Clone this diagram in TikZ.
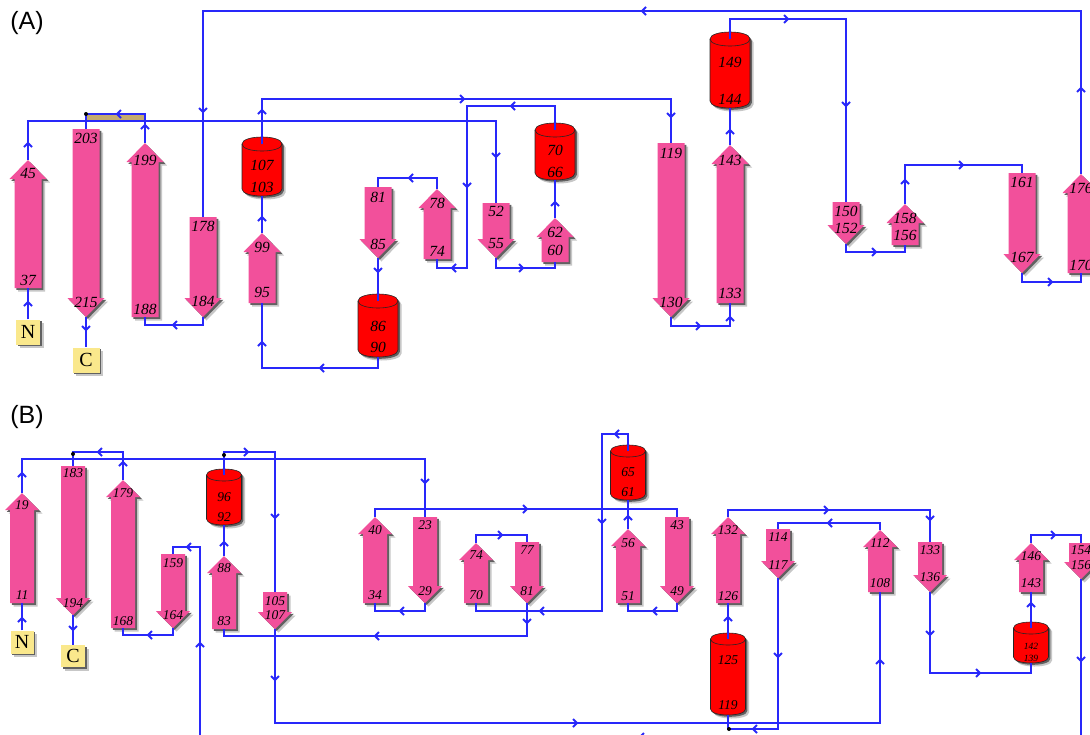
\documentclass[tikz,border=0pt]{standalone}
\usepackage{fontspec}
\setmainfont{Liberation Serif}
\newfontfamily\sansf{Liberation Sans}
\definecolor{cblue}{RGB}{40,40,250}
\definecolor{cpink}{RGB}{242,80,155}
\definecolor{cred}{RGB}{255,0,0}
\definecolor{cyel}{RGB}{250,232,140}
\definecolor{ctan}{RGB}{196,170,112}
\newcommand\labfont{\itshape\fontsize{15.5}{15.5}\selectfont}
\def\bw{27}\def\hw{37}\def\hh{19}\def\cw{40}\def\cry{7}
% up strand: name, x, ybottom, ytip, toplabel, y, bottomlabel, y
\newcommand\upS[8]{%
\fill[shl,shift={(3.5,3.5)}] (#2-\bw/2,#3) -- (#2-\bw/2,#4+\hh) -- (#2-\hw/2,#4+\hh) -- (#2,#4) -- (#2+\hw/2,#4+\hh) -- (#2+\bw/2,#4+\hh) -- (#2+\bw/2,#3) -- cycle;
\fill[shd,shift={(1.8,1.8)}] (#2-\bw/2,#3) -- (#2-\bw/2,#4+\hh) -- (#2-\hw/2,#4+\hh) -- (#2,#4) -- (#2+\hw/2,#4+\hh) -- (#2+\bw/2,#4+\hh) -- (#2+\bw/2,#3) -- cycle;
\fill[cpink] (#2-\bw/2,#3) -- (#2-\bw/2,#4+\hh) -- (#2-\hw/2,#4+\hh) -- (#2,#4) -- (#2+\hw/2,#4+\hh) -- (#2+\bw/2,#4+\hh) -- (#2+\bw/2,#3) -- cycle;
\coordinate (#1-t) at (#2,#4);
\coordinate (#1-b) at (#2,#3);
\node[lab] (#1-l1) at (#2,#6) {#5};
\node[lab] (#1-l2) at (#2,#8) {#7};
}
% down strand: name, x, ytop, ytip, toplabel, y, bottomlabel, y
\newcommand\dnS[8]{%
\fill[shl,shift={(3.5,3.5)}] (#2-\bw/2,#3) -- (#2+\bw/2,#3) -- (#2+\bw/2,#4-\hh) -- (#2+\hw/2,#4-\hh) -- (#2,#4) -- (#2-\hw/2,#4-\hh) -- (#2-\bw/2,#4-\hh) -- cycle;
\fill[shd,shift={(1.8,1.8)}] (#2-\bw/2,#3) -- (#2+\bw/2,#3) -- (#2+\bw/2,#4-\hh) -- (#2+\hw/2,#4-\hh) -- (#2,#4) -- (#2-\hw/2,#4-\hh) -- (#2-\bw/2,#4-\hh) -- cycle;
\fill[cpink] (#2-\bw/2,#3) -- (#2+\bw/2,#3) -- (#2+\bw/2,#4-\hh) -- (#2+\hw/2,#4-\hh) -- (#2,#4) -- (#2-\hw/2,#4-\hh) -- (#2-\bw/2,#4-\hh) -- cycle;
\coordinate (#1-t) at (#2,#3);
\coordinate (#1-b) at (#2,#4);
\node[lab] (#1-l1) at (#2,#6) {#5};
\node[lab] (#1-l2) at (#2,#8) {#7};
}
% helix: name, x, ytop, ybottom, toplabel, y, bottomlabel, y
\newcommand\helix[8]{%
\fill[shl,shift={(3.5,3.5)}] (#2-\cw/2,#3+\cry) -- (#2-\cw/2,#4-\cry) .. controls (#2-\cw/2,#4+\cry/3) and (#2+\cw/2,#4+\cry/3) .. (#2+\cw/2,#4-\cry) -- (#2+\cw/2,#3+\cry) .. controls (#2+\cw/2,#3-\cry/3) and (#2-\cw/2,#3-\cry/3) .. (#2-\cw/2,#3+\cry) -- cycle;
\fill[shd,shift={(1.8,1.8)}] (#2-\cw/2,#3+\cry) -- (#2-\cw/2,#4-\cry) .. controls (#2-\cw/2,#4+\cry/3) and (#2+\cw/2,#4+\cry/3) .. (#2+\cw/2,#4-\cry) -- (#2+\cw/2,#3+\cry) .. controls (#2+\cw/2,#3-\cry/3) and (#2-\cw/2,#3-\cry/3) .. (#2-\cw/2,#3+\cry) -- cycle;
\filldraw[fill=cred,helixline] (#2-\cw/2,#3+\cry) -- (#2-\cw/2,#4-\cry) .. controls (#2-\cw/2,#4+\cry/3) and (#2+\cw/2,#4+\cry/3) .. (#2+\cw/2,#4-\cry) -- (#2+\cw/2,#3+\cry) .. controls (#2+\cw/2,#3-\cry/3) and (#2-\cw/2,#3-\cry/3) .. (#2-\cw/2,#3+\cry) -- cycle;
\draw[helixline] (#2-\cw/2,#3+\cry) .. controls (#2-\cw/2,#3+7*\cry/3) and (#2+\cw/2,#3+7*\cry/3) .. (#2+\cw/2,#3+\cry);
\coordinate (#1-t) at (#2,#3+\cry);
\coordinate (#1-b) at (#2,#4);
\node[lab] (#1-l1) at (#2,#6) {#5};
\node[lab] (#1-l2) at (#2,#8) {#7};
}
% terminus box: name, x, y, w, h, text
\newcommand\tbox[6]{%
\fill[shl] (#2-#4/2+3.5,#3-#5/2+3.5) rectangle ++(#4,#5);
\fill[shd] (#2-#4/2+1.8,#3-#5/2+1.8) rectangle ++(#4,#5);
\node[termbox,minimum width=#4pt,minimum height=#5pt] (#1) at (#2,#3) {#6};
}
% chevrons
\def\cs{4}
\newcommand\chR[2]{\draw[conn] (#1-\cs,#2-\cs) -- (#1,#2) -- (#1-\cs,#2+\cs);}
\newcommand\chL[2]{\draw[conn] (#1+\cs,#2-\cs) -- (#1,#2) -- (#1+\cs,#2+\cs);}
\newcommand\chU[2]{\draw[conn] (#1-\cs,#2+\cs) -- (#1,#2) -- (#1+\cs,#2+\cs);}
\newcommand\chD[2]{\draw[conn] (#1-\cs,#2-\cs) -- (#1,#2) -- (#1+\cs,#2-\cs);}
\begin{document}
\begin{tikzpicture}[x=1pt,y=-1pt,
  conn/.style={draw=cblue,line width=1.9pt},
  shl/.style={fill=black!22},
  shd/.style={fill=black!62},
  helixline/.style={draw=black!85,line width=0.6pt},
  lab/.style={inner sep=0pt,font=\labfont},
  termbox/.style={fill=cyel,inner sep=0pt,font=\fontsize{20}{20}\selectfont},
  panellab/.style={inner sep=0pt,font=\sansf\fontsize{25}{25}\selectfont}]
\path[use as bounding box] (0,0) rectangle (1090,734);
\fill[white] (0,0) rectangle (1090,734);
\clip (0,0) rectangle (1090,734);

% ================= Panel A =================
\node[panellab] (labA) at (27,23) {(A)};
\upS{aS37}{28}{288}{160}{45}{173}{37}{280}
\dnS{aS203}{86}{129}{317}{203}{138}{215}{302}
\upS{aS188}{145}{317}{143}{199}{160}{188}{309}
\dnS{aS178}{203}{217}{317}{178}{226}{184}{301}
\upS{aS95}{262}{303}{233}{99}{247}{95}{292}
\dnS{aS81}{378}{187}{258}{81}{197}{85}{244}
\upS{aS74}{437}{259}{189}{78}{203}{74}{251}
\dnS{aS52}{496}{203}{258}{52}{211}{55}{243}
\upS{aS60}{555}{262}{218}{62}{232}{60}{250}
\dnS{aS119}{671}{143}{317}{119}{153}{130}{302}
\upS{aS133}{730}{303}{145}{143}{160}{133}{293}
\dnS{aS150}{846}{202}{244}{150}{211}{152}{228}
\upS{aS156}{905}{245}{204}{158}{218}{156}{235}
\dnS{aS161}{1022}{173}{273}{161}{182}{167}{257}
\upS{aS170}{1081}{273}{174}{176}{188}{170}{265}
\helix{aH103}{262}{137}{196}{107}{165}{103}{187}
\helix{aH86}{378}{294}{357}{86}{326}{90}{347}
\helix{aH66}{555}{123}{180}{70}{150}{66}{172}
\helix{aH144}{730}{32}{108}{149}{62}{144}{99}
\tbox{aN}{28}{332}{24}{25}{N}
\tbox{aC}{86}{360}{27}{25}{C}

\fill[ctan] (aS203-t |- 0,114) rectangle (aS188-t |- 0,120);
\draw[conn] (aN.north) -- (aS37-b);
\draw[conn] (aS37-t) -- (aS37-t |- 0,121) -| (aS52-t);
\draw[conn] (aS52-b) -- (aS52-b |- 0,268) -| (aS60-b);
\draw[conn] (aS60-t) -- (aH66-b);
\draw[conn] (aH66-t) |- (467,106) -- (467,268) -| (aS74-b);
\draw[conn] (aS74-t) -- (aS74-t |- 0,178) -| (aS81-t);
\draw[conn] (aS81-b) -- (aH86-t);
\draw[conn] (aH86-b) -- (aH86-b |- 0,368) -| (aS95-b);
\draw[conn] (aS95-t) -- (aH103-b);
\draw[conn] (aH103-t) -- (aH103-t |- 0,99) -| (aS119-t);
\draw[conn] (aS119-b) -- (aS119-b |- 0,326) -| (aS133-b);
\draw[conn] (aS133-t) -- (aH144-b);
\draw[conn] (aH144-t) -- (aH144-t |- 0,19) -| (aS150-t);
\draw[conn] (aS150-b) -- (aS150-b |- 0,252) -| (aS156-b);
\draw[conn] (aS156-t) -- (aS156-t |- 0,165) -| (aS161-t);
\draw[conn] (aS161-b) -- (aS161-b |- 0,282) -| (aS170-b);
\draw[conn] (aS170-t) -- (aS170-t |- 0,11) -| (aS178-t);
\draw[conn] (aS178-b) -- (aS178-b |- 0,325) -| (aS188-b);
\draw[conn] (aS188-t) -- (aS188-t |- 0,114) -| (aS203-t);
\draw[conn] (aS203-b) -- (aC.north);
\fill (86,114) circle[radius=2pt];
\chU{28}{302} \chU{28}{143} \chD{496}{157} \chR{523}{268} \chU{555}{202}
\chL{511}{106} \chD{467}{187} \chL{452}{268} \chL{409}{178} \chD{378}{272}
\chL{320}{368} \chU{262}{342} \chU{262}{217} \chU{262}{110} \chR{464}{99}
\chD{671}{117} \chR{700}{326} \chU{730}{317} \chU{730}{130} \chR{788}{19}
\chD{846}{106} \chR{876}{252} \chU{905}{180} \chR{963}{165} \chR{1052}{282}
\chU{1081}{88} \chL{642}{11} \chD{203}{112} \chL{173}{325} \chU{145}{125}
\chL{117}{114} \chD{86}{330}

% ================= Panel B =================
\node[panellab] (labB) at (27,417) {(B)};
\renewcommand\labfont{\itshape\fontsize{13.5}{13.5}\selectfont}
\def\bw{24}\def\hw{34}\def\hh{17}\def\cw{35}\def\cry{6}
\upS{bS11}{22}{603}{493}{19}{505}{11}{595}
\dnS{bS183}{73}{466}{615}{183}{473}{194}{603}
\upS{bS168}{123}{628}{480}{179}{493}{168}{621}
\dnS{bS159}{173}{554}{628}{159}{563}{164}{615}
\upS{bS83}{224}{629}{556}{88}{568}{83}{621}
\dnS{bS105}{275}{592}{629}{105}{601}{107}{615}
\upS{bS34}{375}{603}{517}{40}{530}{34}{595}
\dnS{bS23}{425}{517}{603}{23}{525}{29}{591}
\upS{bS70}{476}{603}{543}{74}{555}{70}{595}
\dnS{bS77}{527}{542}{603}{77}{550}{81}{591}
\upS{bS51}{628}{603}{529}{56}{543}{51}{596}
\dnS{bS43}{677}{517}{603}{43}{525}{49}{591}
\upS{bS126}{728}{603}{517}{132}{530}{126}{596}
\dnS{bS114}{778}{529}{578}{114}{537}{117}{565}
\upS{bS108}{880}{592}{530}{112}{543}{108}{583}
\dnS{bS133}{930}{542}{592}{133}{550}{136}{577}
\upS{bS143}{1031}{592}{543}{146}{556}{143}{583}
\dnS{bS154}{1081}{543}{579}{154}{550}{156}{565}
\helix{bH92}{224}{469}{525}{96}{497}{92}{517}
\helix{bH61}{628}{445}{500}{65}{472}{61}{492}
\helix{bH119}{728}{633}{715}{125}{660}{119}{705}
\renewcommand\labfont{\itshape\fontsize{9.5}{9.5}\selectfont}
\helix{bH139}{1031}{622}{663}{142}{646}{139}{658}
\tbox{bN}{22}{642}{23}{23}{N}
\tbox{bC}{73}{656}{24}{22}{C}

\draw[conn] (bN.north) -- (bS11-b);
\draw[conn] (bS11-t) -- (bS11-t |- 0,459) -| (bS23-t);
\draw[conn] (bS23-b) -- (bS23-b |- 0,611) -| (bS34-b);
\draw[conn] (bS34-t) -- (bS34-t |- 0,509) -| (bS43-t);
\draw[conn] (bS43-b) -- (bS43-b |- 0,611) -| (bS51-b);
\draw[conn] (bS51-t) -- (bH61-b);
\draw[conn] (bH61-t) |- (602,434) -- (602,611) -| (bS70-b);
\draw[conn] (bS70-t) -- (bS70-t |- 0,535) -| (bS77-t);
\draw[conn] (bS77-b) -- (bS77-b |- 0,636) -| (bS83-b);
\draw[conn] (bS83-t) -- (bH92-b);
\draw[conn] (bH92-t) -- (bH92-t |- 0,452) -| (bS105-t);
\draw[conn] (bS105-b) -- (bS105-b |- 0,723) -| (bS108-b);
\draw[conn] (bS108-t) -- (bS108-t |- 0,523) -| (bS114-t);
\draw[conn] (bS114-b) -- (bS114-b |- 0,729) -| (bH119-b);
\draw[conn] (bH119-t) -- (bS126-b);
\draw[conn] (bS126-t) -- (bS126-t |- 0,510) -| (bS133-t);
\draw[conn] (bS133-b) -- (bS133-b |- 0,673) -| (bH139-b);
\draw[conn] (bH139-t) -- (bS143-b);
\draw[conn] (bS143-t) -- (bS143-t |- 0,535) -| (bS154-t);
\coordinate (bOff) at (200,737);
\draw[conn] (bS154-b) |- (bOff) |- (bS159-t |- 0,547) -- (bS159-t);
\draw[conn] (bS159-b) -- (bS159-b |- 0,635) -| (bS168-b);
\draw[conn] (bS168-t) -- (bS168-t |- 0,452) -| (bS183-t);
\draw[conn] (bS183-b) -- (bC.north);
\fill (73,454) circle[radius=2pt];
\fill (224,455) circle[radius=2pt];
\fill (729,729) circle[radius=2pt];
\chU{22}{618} \chU{22}{473} \chD{425}{483} \chL{400}{611} \chR{527}{509}
\chL{653}{611} \chU{628}{516} \chL{615}{434} \chD{602}{523} \chL{540}{611}
\chR{502}{535} \chD{527}{623} \chL{375}{636} \chU{224}{542} \chR{248}{452}
\chD{275}{518} \chD{275}{680} \chR{577}{723} \chU{880}{660} \chL{828}{523}
\chD{778}{657} \chL{753}{729} \chU{728}{617} \chR{828}{510} \chD{930}{520}
\chD{930}{635} \chR{980}{673} \chU{1031}{603} \chR{1055}{535} \chD{1081}{661}
\chL{640}{737} \chU{200}{643} \chL{187}{547} \chL{148}{635} \chU{123}{462}
\chL{98}{452} \chD{73}{630}
\end{tikzpicture}
\end{document}
